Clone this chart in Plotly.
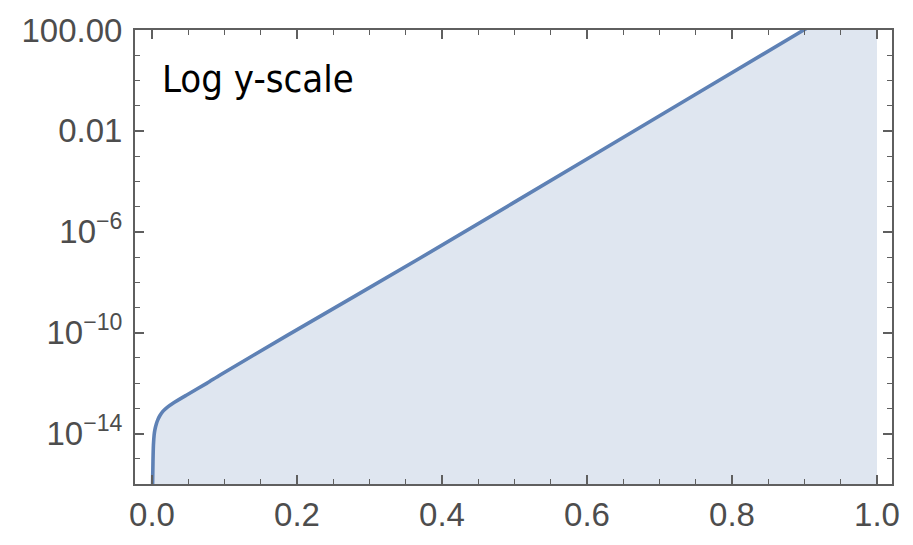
import plotly.graph_objects as go

# Curve samples (x, y)
x_vals = [0.0007, 0.0014, 0.002, 0.003, 0.004, 0.006, 0.008, 0.011, 0.015,
          0.021, 0.029, 0.048, 0.076, 0.094, 0.186, 0.370, 0.618, 0.899, 1.0]
y_vals = [5.0e-17, 7.9e-16, 3.5e-15, 8.9e-15, 1.4e-14, 2.4e-14, 3.5e-14,
          5.2e-14, 7.6e-14, 1.1e-13, 1.6e-13, 3.4e-13, 1.0e-12, 2.1e-12,
          7.6e-11, 9.1e-08, 1.55e-03, 100.0, 5.0e3]

# Axis ticks
x_major = [0.0, 0.2, 0.4, 0.6, 0.8, 1.0]
x_major_text = ["0.0", "0.2", "0.4", "0.6", "0.8", "1.0"]
x_minor = [0.05, 0.1, 0.15, 0.25, 0.3, 0.35, 0.45, 0.5, 0.55, 0.65, 0.7,
           0.75, 0.85, 0.9, 0.95]
y_major = [1e2, 1e-2, 1e-6, 1e-10, 1e-14]
y_major_text = ["100.00", "0.01", "10<sup>\u22126</sup>",
                "10<sup>\u221210</sup>", "10<sup>\u221214</sup>"]
y_minor = [1e1, 1e0, 1e-1, 1e-3, 1e-4, 1e-5, 1e-7, 1e-8, 1e-9, 1e-11,
           1e-12, 1e-13, 1e-15, 1e-16]

FLOOR = 1e-18
LINE_COLOR = "#5E81B5"
FILL_COLOR = "#DFE6F0"
AXIS_COLOR = "#5f5f5f"
LABEL_COLOR = "#4d4d4d"

fig = go.Figure()

# lower boundary for the filled area
fig.add_trace(go.Scatter(
    x=[x_vals[0], x_vals[-1]], y=[FLOOR, FLOOR],
    mode="lines", line=dict(width=0, color=FILL_COLOR),
    hoverinfo="skip", showlegend=False,
))
fig.add_trace(go.Scatter(
    x=x_vals, y=y_vals, mode="lines",
    line=dict(color=LINE_COLOR, width=3.6, shape="spline", smoothing=0.6),
    fill="tonexty", fillcolor=FILL_COLOR,
    showlegend=False,
))

tick_font = dict(family="Liberation Sans, Arial, sans-serif", size=33,
                 color=LABEL_COLOR)

fig.update_xaxes(
    range=[-0.0234, 1.0207],
    tickmode="array", tickvals=x_major, ticktext=x_major_text,
    ticks="inside", ticklen=9, tickwidth=1.6, tickcolor=AXIS_COLOR,
    minor=dict(tickmode="array", tickvals=x_minor, ticks="inside",
               ticklen=5, tickwidth=1.4, tickcolor=AXIS_COLOR, showgrid=False),
    showline=True, linecolor=AXIS_COLOR, linewidth=2, mirror="allticks",
    showgrid=False, zeroline=False, tickfont=tick_font, layer="above traces",
)
fig.update_yaxes(
    type="log", range=[-16, 2],
    tickmode="array", tickvals=y_major, ticktext=y_major_text,
    ticks="inside", ticklen=9, tickwidth=1.6, tickcolor=AXIS_COLOR,
    minor=dict(tickmode="array", tickvals=y_minor, ticks="inside",
               ticklen=5, tickwidth=1.4, tickcolor=AXIS_COLOR, showgrid=False),
    showline=True, linecolor=AXIS_COLOR, linewidth=2, mirror="allticks",
    showgrid=False, zeroline=False, tickfont=tick_font, layer="above traces",
    ticklabelstandoff=4,
)

fig.add_annotation(
    text="Log y-scale", xref="paper", yref="paper",
    x=0.0335, y=0.893, xanchor="left", yanchor="middle", showarrow=False,
    font=dict(family="DejaVu Sans Condensed, DejaVu Sans, sans-serif",
              size=38, color="#000000"),
)

fig.update_layout(
    width=913, height=545,
    margin=dict(l=135, r=21, t=25, b=52),
    paper_bgcolor="white", plot_bgcolor="white",
)

fig.write_html("out.html")
